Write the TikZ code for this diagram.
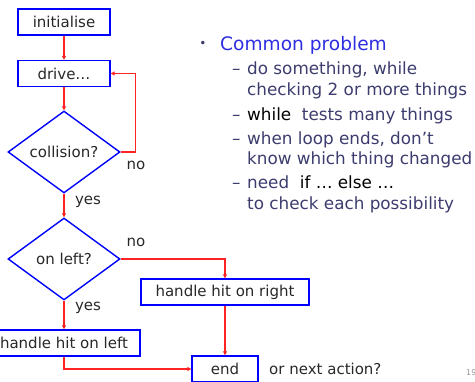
\documentclass[tikz,border=0pt]{standalone}
\usepackage{fontspec}
\setmainfont{DejaVu Sans}
\usetikzlibrary{shapes.geometric,arrows.meta}
\definecolor{boxblue}{RGB}{0,0,255}
\definecolor{flowred}{RGB}{255,35,35}
\definecolor{inkgray}{RGB}{40,40,40}
\definecolor{headblue}{RGB}{45,45,225}
\definecolor{subslate}{RGB}{60,60,110}
\definecolor{numgray}{RGB}{150,150,150}

\newcommand{\flowfont}{\fontsize{15}{18}\selectfont}
\newcommand{\headfont}{\fontsize{18.6}{22}\selectfont}
\newcommand{\subfont}{\fontsize{16.8}{20}\selectfont}

\tikzset{
  stepbox/.style={draw=boxblue, line width=1.4pt, fill=white, text=inkgray,
    minimum height=26pt, inner sep=0pt, font=\flowfont},
  testbox/.style={diamond, draw=boxblue, line width=1.4pt, fill=white, text=inkgray,
    minimum width=112pt, minimum height=82pt, inner sep=0pt, font=\flowfont},
  flow/.style={draw=flowred, line width=1.4pt, -{Triangle[length=4pt,width=4pt]}},
  branch/.style={text=inkgray, font=\flowfont, inner sep=0pt},
  subline/.style={anchor=base west, inner sep=0pt, text=subslate, font=\subfont},
}

\begin{document}
\begin{tikzpicture}[x=1pt, y=-1pt]

% ── Frame ────────────────────────────────────────────────────────────
\useasboundingbox (0,0) rectangle (475,382);

% ── Flowchart boxes ─────────────────────────────────────────────────
\node[stepbox, minimum width=92pt]  (init)  at (64,22)    {initialise};
\node[stepbox, minimum width=92pt]  (drive) at (64,73.5)  {drive…};
\node[testbox]                      (coll)  at (64,152)   {collision?};
\node[testbox]                      (side)  at (64,259)   {on left?};
\node[stepbox, minimum width=168pt] (right) at (225,292)  {handle hit on right};
\node[stepbox, minimum width=152pt] (left)  at (64,343)   {handle hit on left};
\node[stepbox, minimum width=66pt]  (end)   at (225,369)  {end};

% ── Connectors ──────────────────────────────────────────────────────
\draw[flow] (init.south) -- (drive.north);
\draw[flow] (drive.south) -- (coll.north);
\draw[flow] (coll.east) -- ++(15,0) |- (drive.east);  % loop back
\draw[flow] (coll.south) -- (side.north);
\draw[flow] (side.east) -| (right.north);
\draw[flow] (side.south) -- (left.north);
\draw[flow] (right.south) -- (end.north);
\draw[flow] (left.south) |- (end.west);

% ── Branch labels ───────────────────────────────────────────────────
\node[branch] (nocoll)  at (136,165) {no};
\node[branch] (yescoll) at (88,202)  {yes};
\node[branch] (noside)  at (136,242) {no};
\node[branch] (yesside) at (88,308)  {yes};
\node[branch, anchor=west] (next) at (269,369) {or next action?};

% ── Bullet text ─────────────────────────────────────────────────────
\node[inner sep=0pt, text=subslate, font=\fontsize{12}{14}\selectfont]
  (dot) at (203,44) {•};
\node[anchor=base west, inner sep=0pt, text=headblue, font=\headfont]
  (head) at (220,50.7) {Common problem};

\foreach \y in {75,120.7,144.3,188.3}
  \node[subline] at (232,\y) {–};

\node[subline] (itemA)  at (247,75)    {do something, while};
\node[subline] (itemAb) at (247,96)    {checking 2 or more things};
\node[subline] (itemB)  at (247,120.7) {\textcolor{black}{while}\ \ tests many things};
\node[subline] (itemC)  at (247,144.3) {when loop ends, don’t};
\node[subline] (itemCb) at (247,165)   {know which thing changed};
\node[subline] (itemD)  at (247,188.3) {need\ \ \textcolor{black}{if … else …}};
\node[subline] (itemDb) at (247,210)   {to check each possibility};

% ── Slide number ────────────────────────────────────────────────────
\node[anchor=west, inner sep=0pt, text=numgray, font=\fontsize{8}{9}\selectfont]
  (pagenum) at (466,373) {19};

\end{tikzpicture}
\end{document}
